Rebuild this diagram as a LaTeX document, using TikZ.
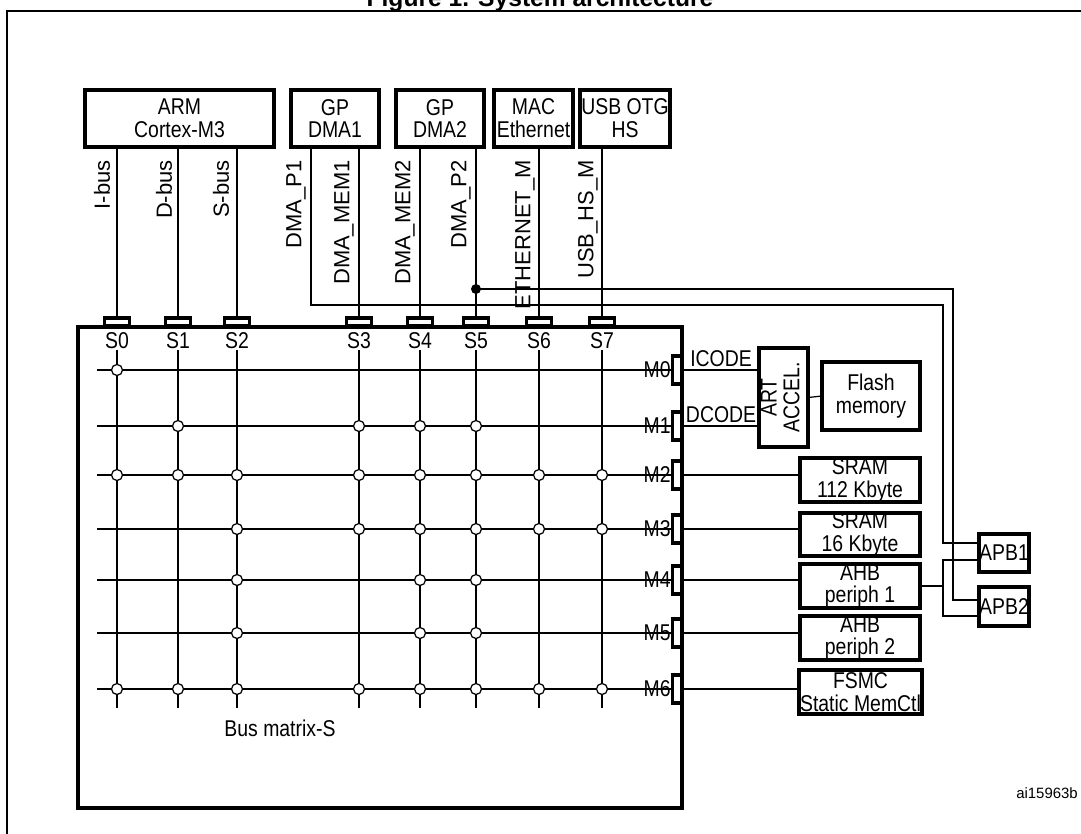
\documentclass[tikz,border=0pt]{standalone}
\usepackage{fontspec}
\setmainfont{Liberation Sans}
\newfontfamily\narrowfont[FakeStretch=0.85]{Liberation Sans}
\usetikzlibrary{positioning}
\tikzset{
  blk/.style = {draw, line width=2.2pt, inner sep=0pt, outer sep=0pt, align=center, font=\narrowfont\fontsize{13}{13}\selectfont},
  sport/.style = {draw, fill=white, line width=1.8pt, minimum width=0.5cm, minimum height=0.16cm, inner sep=0pt},
  mport/.style = {draw, fill=white, line width=1.8pt, minimum width=0.18cm, minimum height=0.56cm, inner sep=0pt},
  buslbl/.style = {rotate=90, anchor=east, inner sep=0pt, font=\fontsize{12.5}{12.5}\selectfont},
  plbl/.style = {inner sep=0pt, font=\narrowfont\fontsize{13}{13}\selectfont},
  xpt/.style = {draw, fill=white, circle, minimum size=0.22cm, inner sep=0pt, line width=0.7pt},
  wire/.style = {draw, line width=0.7pt}
}
\begin{document}
\begin{tikzpicture}[x=0.02cm, y=-0.02cm]
  \useasboundingbox (0,0) rectangle (1081,833);
  % frame and title
  \draw [line width=1.1pt] (7,11) rectangle (1090,845);
  \node [anchor=base, font=\bfseries\fontsize{14}{14}\selectfont] (title) at (540,6) {Figure 1. System architecture};

  % masters
  \node [blk, minimum width=3.78cm, minimum height=1.14cm] (arm) at (179.5,118.5) {ARM\\Cortex-M3};
  \node [blk, minimum width=1.76cm, minimum height=1.14cm] (dma1) at (335,118.5) {GP\\DMA1};
  \node [blk, minimum width=1.76cm, minimum height=1.14cm] (dma2) at (440,118.5) {GP\\DMA2};
  \node [blk, minimum width=1.58cm, minimum height=1.14cm] (mac) at (533.5,118.5) {MAC\\Ethernet};
  \node [blk, minimum width=1.80cm, minimum height=1.14cm] (usb) at (625,118.5) {USB OTG\\HS};

  % bus matrix
  \node [draw, line width=2.4pt, minimum width=12.08cm, minimum height=9.62cm, inner sep=0pt] (busmtx) at (380,567.5) {};
  \node [plbl] (mtxlbl) at (280,728) {Bus matrix-S};

  % slave ports
  \foreach \i/\x in {0/117, 1/178, 2/237, 3/359, 4/420, 5/476, 6/539, 7/602} {
    \node [sport] (s\i) at (\x,322) {};
    \node [plbl, below=2.5pt of s\i] (sl\i) {S\i};
    \coordinate (c\i) at (\x,350);
  }

  % bus lines
  \draw [wire] (s0.north) -- (s0.north |- arm.south);
  \draw [wire] (s1.north) -- (s1.north |- arm.south);
  \draw [wire] (s2.north) -- (s2.north |- arm.south);
  \draw [wire] (s3.north) -- (s3.north |- dma1.south);
  \draw [wire] (s4.north) -- (s4.north |- dma2.south);
  \draw [wire] (s5.north) -- (s5.north |- dma2.south);
  \draw [wire] (s6.north) -- (s6.north |- mac.south);
  \draw [wire] (s7.north) -- (s7.north |- usb.south);
  \node [buslbl] (lib) at (102,160) {I-bus};
  \node [buslbl] (ldb) at (164,160) {D-bus};
  \node [buslbl] (lsb) at (221,160) {S-bus};
  \node [buslbl] (lp1) at (296,160) {DMA\_P1};
  \node [buslbl] (lm1) at (344,160) {DMA\_MEM1};
  \node [buslbl] (lm2) at (405,160) {DMA\_MEM2};
  \node [buslbl] (lp2) at (461,160) {DMA\_P2};
  \node [buslbl] (leth) at (525,160) {ETHERNET\_M};
  \node [buslbl] (lusb) at (588,160) {USB\_HS\_M};

  % master ports and grid
  \coordinate (bot) at (0,708);
  \foreach \j/\y in {0/370, 1/426, 2/475, 3/529, 4/580, 5/633, 6/689} {
    \coordinate (r\j) at (97,\y);
    \node [mport] (m\j) at (677,\y) {};
  }
  \foreach \i in {0,...,7}
    \draw [wire] (c\i) -- (c\i |- bot);
  \foreach \j in {0,...,6} {
    \draw [wire] (r\j) -- (m\j.west);
    \node [plbl, left=0pt of m\j] (ml\j) {M\j};
  }
  \foreach \i/\j in {0/0, 1/1,3/1,4/1,5/1,
                     0/2,1/2,2/2,3/2,4/2,5/2,6/2,7/2,
                     2/3,3/3,4/3,5/3,6/3,7/3,
                     2/4,4/4,5/4, 2/5,4/5,5/5,
                     0/6,1/6,2/6,3/6,4/6,5/6,6/6,7/6}
    \node [xpt] at (c\i |- r\j) {};

  % slaves
  \node [blk, minimum width=0.98cm, minimum height=1.98cm] (art) at (783.5,397.5) {\rotatebox{90}{\begin{tabular}{@{}c@{}}ART\\ACCEL.\end{tabular}}};
  \node [blk, minimum width=1.96cm, minimum height=1.36cm] (flash) at (871,396) {Flash\\memory};
  \node [blk, minimum width=2.4cm, minimum height=0.88cm] (sram1) at (860,480) {SRAM\\112 Kbyte};
  \node [blk, minimum width=2.4cm, minimum height=0.86cm] (sram2) at (860,534.5) {SRAM\\16 Kbyte};
  \node [blk, minimum width=2.4cm, minimum height=0.84cm] (ahb1) at (860,586) {AHB\\periph 1};
  \node [blk, minimum width=2.4cm, minimum height=0.88cm] (ahb2) at (860,638) {AHB\\periph 2};
  \node [blk, minimum width=2.46cm, minimum height=0.88cm] (fsmc) at (860.5,692) {FSMC\\Static MemCtl};
  \node [blk, minimum width=0.96cm, minimum height=0.76cm] (apb1) at (1004,553) {APB1};
  \node [blk, minimum width=0.96cm, minimum height=0.78cm] (apb2) at (1004,606.5) {APB2};

  \draw [wire] (m0.east) -- node [above, plbl, yshift=1.5pt] (icode) {ICODE} (m0.east -| art.west);
  \draw [wire] (m1.east) -- node [above, plbl, yshift=1.5pt] (dcode) {DCODE} (m1.east -| art.west);
  \draw [wire] (art.east) -- (flash.west);
  \draw [wire] (m2.east) -- (m2.east -| sram1.west);
  \draw [wire] (m3.east) -- (m3.east -| sram2.west);
  \draw [wire] (m4.east) -- (m4.east -| ahb1.west);
  \draw [wire] (m5.east) -- (m5.east -| ahb2.west);
  \draw [wire] (m6.east) -- (m6.east -| fsmc.west);

  % APB bridges
  \coordinate (k1) at (943,0);
  \coordinate (k2) at (953,0);
  \coordinate (p1) at (311,305);
  \coordinate (j5) at (s5.north |- 0,289);
  \coordinate (a1top) at ([yshift=0.2cm]apb1.west);
  \coordinate (a1bot) at ([yshift=-0.14cm]apb1.west);
  \coordinate (a2top) at ([yshift=0.13cm]apb2.west);
  \coordinate (a2bot) at ([yshift=-0.19cm]apb2.west);
  \draw [wire] (p1 |- dma1.south) -- (p1) -| (k1 |- a1top) -- (a1top);
  \draw [wire] (j5) -| (k2 |- a2top) -- (a2top);
  \fill (j5) circle (0.1cm);
  \draw [wire] (ahb1.east) -- (k1 |- ahb1.east);
  \draw [wire] (k1 |- ahb1.east) |- (a1bot);
  \draw [wire] (k1 |- ahb1.east) |- (a2bot);

  \node [font=\fontsize{8.5}{8.5}\selectfont] (ref) at (1047,793) {ai15963b};
\end{tikzpicture}
\end{document}
